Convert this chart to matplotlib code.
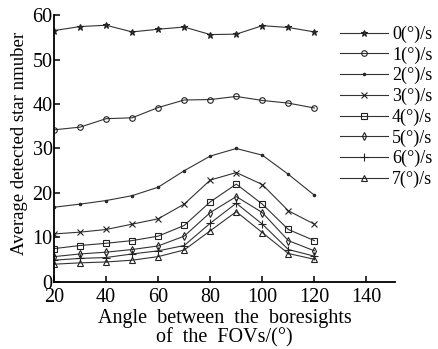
import matplotlib
matplotlib.use("Agg")
import matplotlib.pyplot as plt

plt.rcParams['font.family'] = ['Liberation Serif', 'DejaVu Serif']

angles = [20, 30, 40, 50, 60, 70, 80, 90, 100, 110, 120]

rate0 = [56.5, 57.4, 57.7, 56.2, 56.8, 57.3, 55.6, 55.7, 57.6, 57.2, 56.2]
rate1 = [34.2, 34.8, 36.7, 36.9, 39.2, 40.9, 41.0, 41.7, 40.8, 40.2, 39.1]
rate2 = [16.8, 17.5, 18.3, 19.4, 21.3, 25.0, 28.3, 30.0, 28.5, 24.2, 19.5]
rate3 = [10.8, 11.2, 11.8, 13.0, 14.2, 17.5, 22.9, 24.6, 21.9, 16.0, 13.0]
rate4 = [7.5, 8.2, 8.7, 9.3, 10.3, 12.7, 18.0, 22.0, 17.5, 11.8, 9.3]
rate5 = [5.7, 6.3, 6.7, 7.3, 8.1, 10.3, 15.6, 19.2, 15.6, 9.3, 7.0]
rate6 = [4.9, 5.3, 5.5, 6.3, 7.0, 8.2, 13.2, 17.7, 13.0, 7.3, 5.8]
rate7 = [4.0, 4.3, 4.5, 4.9, 5.7, 7.2, 11.5, 15.8, 11.1, 6.4, 5.1]

labels = ["0(°)/s", "1(°)/s", "2(°)/s", "3(°)/s",
          "4(°)/s", "5(°)/s", "6(°)/s", "7(°)/s"]

series = [rate0, rate1, rate2, rate3, rate4, rate5, rate6, rate7]
markers = ['*', 'o', '.', 'x', 's', 'd', '+', '^']
msizes = [4.5, 4, 3.5, 4, 5, 4, 6, 4.5]

fig = plt.figure(figsize=(4.39, 3.49), dpi=100)
ax = fig.add_axes([0.123, 0.192, 0.777, 0.765])

for vals, m, ms, lab in zip(series, markers, msizes, labels):
    ax.plot(angles, vals, color='#333333', lw=0.8, marker=m, ms=ms,
            mfc='none' if m in 'osd^' else '#333333', mec='#222222',
            mew=0.8, label=lab)

ax.set_xlim(20, 151)
ax.set_ylim(0, 60)
ax.set_xticks([20, 40, 60, 80, 100, 120, 140])
ax.set_yticks([0, 10, 20, 30, 40, 50, 60])
ax.spines['top'].set_visible(False)
ax.spines['right'].set_visible(False)
ax.spines['left'].set_linewidth(1.3)
ax.spines['bottom'].set_linewidth(1.3)
ax.tick_params(direction='in', length=4, width=1.1, labelsize=14.5)
ax.tick_params(axis='x', pad=4)
ax.tick_params(axis='y', pad=1)

ax.set_xlabel("Angle  between  the  boresights\nof  the  FOVs/(°)", fontsize=14.5,
              labelpad=2, linespacing=0.95)
ax.set_ylabel("Average detected star nmuber", fontsize=13.5, labelpad=3)
ax.yaxis.label.set_y(0.52)

leg = ax.legend(loc='upper left', bbox_to_anchor=(0.839, 0.96), frameon=False,
                fontsize=13, handlelength=2.67, handletextpad=0.2,
                labelspacing=0.19, borderaxespad=0.0, borderpad=0.0)

fig.savefig("out.png", dpi=100)
